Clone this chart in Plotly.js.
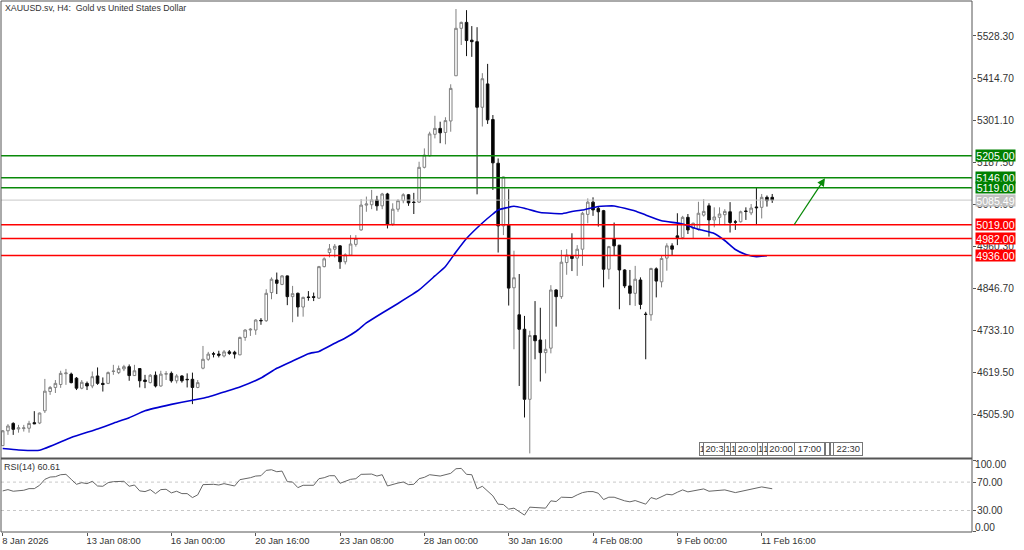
<!DOCTYPE html>
<html><head><meta charset="utf-8">
<script src="https://cdn.plot.ly/plotly-3.0.1.min.js"></script>
<style>html,body{margin:0;padding:0;background:#fff}#c{width:1024px;height:550px}</style>
</head><body><div id="c"></div>
<script>
const openP=[4423,4463,4483,4468,4469,4470,4485,4484,4517,4569,4580,4588,4617,4616,4605,4578,4591,4584,4611,4591,4591,4623,4620,4630,4636,4612,4631,4600,4593,4613,4584,4616,4618,4598,4611,4602,4602,4580,4632,4656,4671,4670,4665,4676,4675,4668,4715,4735,4735,4761,4760,4836,4870,4858,4881,4825,4834,4797,4824,4825,4821,4906,4944,4953,4962,4919,4937,4966,5005,5072,5073,5086,5070,5102,5021,5061,5084,5100,5080,5080,5174,5205,5263,5279,5268,5299,5421,5549,5565,5517,5513,5336,5399,5303,5185,5016,5018,4849,4776,4737,4548,4720,4708,4674,4686,4843,4825,4917,4936,4929,4953,5047,5080,5063,5057,4899,4981,4964,4897,4854,4834,4870,4778,4776,4900,4865,4929,4962,4989,4984,5039,5009,5007,5045,5070,5032,5039,5046,5054,5027,5027,5056,5051,5067,5066,5093,5093];
const highP=[4465,4481,4486,4479,4479,4490,4516,4512,4603,4584,4600,4625,4630,4620,4608,4600,4596,4623,4634,4607,4623,4641,4639,4641,4642,4641,4632,4614,4616,4623,4625,4624,4623,4616,4613,4618,4620,4600,4692,4676,4676,4679,4681,4681,4679,4717,4737,4740,4764,4767,4845,4877,4890,4883,4882,4854,4836,4825,4840,4836,4908,4931,4967,4967,4964,4942,4991,4991,5088,5095,5113,5097,5105,5105,5077,5088,5104,5102,5105,5189,5225,5270,5313,5297,5309,5398,5601,5567,5598,5555,5552,5428,5453,5315,5198,5149,5115,4949,4886,4773,4733,4813,4795,4710,4856,4845,4951,4953,4996,4964,5054,5090,5093,5068,5059,4962,5025,4964,4899,4897,4908,4877,4784,4903,4904,4937,4969,4969,5050,5043,5048,5025,5081,5088,5077,5066,5066,5061,5080,5032,5057,5066,5075,5120,5102,5098,5102];
const lowP=[4422,4452,4452,4458,4461,4458,4481,4481,4511,4560,4565,4579,4587,4591,4573,4575,4573,4578,4587,4569,4589,4614,4616,4624,4598,4611,4580,4578,4591,4580,4582,4600,4593,4591,4593,4580,4535,4578,4629,4652,4661,4661,4661,4668,4658,4667,4706,4719,4722,4749,4757,4818,4832,4856,4802,4756,4771,4771,4814,4813,4819,4904,4931,4931,4900,4912,4935,4960,5003,5054,5061,5057,5061,5009,5016,5054,5077,5070,5048,5078,5171,5203,5252,5239,5236,5270,5421,5504,5474,5472,5101,5284,5291,5113,4944,4991,4801,4683,4584,4499,4402,4656,4596,4618,4672,4744,4819,4884,4894,4881,4908,5023,5043,5014,4850,4872,4937,4791,4848,4802,4800,4791,4656,4760,4823,4850,4895,4937,4964,4980,4994,4982,5003,5041,4987,5012,5018,5018,4998,5005,5025,5032,5045,5021,5036,5068,5078];
const closeP=[4463,4476,4467,4471,4471,4483,4482,4511,4570,4580,4591,4618,4619,4593,4578,4594,4584,4609,4591,4588,4620,4624,4631,4636,4612,4625,4598,4596,4613,4584,4616,4617,4598,4611,4598,4601,4580,4593,4656,4670,4670,4667,4676,4672,4670,4715,4735,4737,4762,4760,4834,4872,4861,4881,4825,4833,4797,4823,4823,4823,4906,4927,4954,4961,4919,4938,4967,4982,5072,5075,5086,5070,5102,5021,5061,5084,5100,5078,5079,5174,5207,5264,5279,5267,5300,5387,5549,5565,5516,5513,5336,5413,5302,5186,5016,5148,4848,4876,4737,4548,4720,4706,4674,4683,4843,4825,4918,4937,4928,4953,5050,5080,5059,5054,4899,4960,4962,4897,4854,4834,4872,4804,4777,4901,4867,4928,4962,4953,4984,5039,5005,5023,5050,5055,5032,5040,5048,5055,5025,5026,5054,5055,5064,5065,5093,5084,5085.49];

const maBars=[0,3,7,13,18,21,24,27,32,36,39,42,45,49,52,55,58,60,63,65,67,69,72,75,79,82,84,86,88,91,93,94,97,99,102,106,108,110,113,116,120,122,125,129,132,135,137,139,141,143,145];
const maValues=[4415.3,4411.3,4410.5,4445,4468,4483.4,4498.2,4517.1,4534.3,4545.7,4554.3,4567.8,4581.3,4605.6,4631.7,4651.4,4671.1,4677.1,4699.2,4713.5,4731,4754,4780.9,4806.6,4843,4880.8,4906.4,4945.5,4981.9,5023.7,5048,5058.8,5068.8,5063.4,5052,5048.8,5054.8,5058.8,5068.3,5069.6,5056.1,5045.3,5030,5021,5006.7,4995.4,4976.5,4952.2,4938.8,4932.8,4935.5];

const rsiBars=[0,1,2,4,5,6,7,8,9,10,11,12,13,14,15,16,17,18,19,20,21,23,24,25,26,27,28,29,30,31,32,33,34,35,36,37,38,40,41,42,44,45,47,48,49,50,51,52,53,54,55,56,57,59,60,61,62,63,64,65,66,67,68,70,71,72,73,75,76,77,78,79,80,81,83,85,86,87,88,89,90,91,93,94,95,96,97,99,100,101,103,104,105,106,108,109,110,111,112,113,114,115,116,118,119,120,122,123,124,126,127,128,129,130,133,134,137,139,142,144,146];
const rsiValues=[57.6,59.4,57.1,58.5,60.8,60.8,65.5,73.9,77.1,77.6,80.4,80.9,73.9,66.9,69.2,67.8,71.1,64.5,64.1,69.2,70.6,71.1,64.1,65.9,57.6,56.6,59.4,53.8,59.4,59.9,54.8,57.1,53.8,53.8,48.2,52,66.4,66.9,65.9,67.8,64.5,73.4,76.2,78.5,79,86.5,87.4,84.6,85.5,70.6,70.1,62.2,65.5,65.5,74.8,76.2,79,79,68.3,71.5,73.9,74.8,80.9,81.3,78.5,80.4,64.5,68.7,70.1,66.4,66.9,74.8,76.7,80.4,78.5,82.3,88.8,89.3,80.9,80.4,60.4,64.1,50.6,38.9,38.4,31.9,33.3,23.5,34.7,34.2,33.3,43.6,42.6,48.7,48.2,52,55.2,56.6,56.6,54.3,45.4,48.7,48.7,43.6,42.2,44,38.9,48.2,45.9,52.9,52,55.7,59,56.2,60.4,57.1,59,55.2,59.9,63.2,60.61];

const priceTicks=[5528.30,5414.70,5301.10,5187.50,5073.90,4960.30,4846.70,4733.10,4619.50,4505.90];
const timeTickBars=[0,16,32,48,64,80,96,112,128,144];
const timeTickLabels=["8 Jan 2026","13 Jan 08:00","16 Jan 00:00","20 Jan 16:00","23 Jan 08:00","28 Jan 00:00","30 Jan 16:00","4 Feb 08:00","9 Feb 00:00","11 Feb 16:00"];
const rsiTicks=[0,30,70,100];
const rsiTickText=["","30.00","70.00",""];

const resistance=[5205,5146,5119];
const support=[5019,4982,4936];
const lastPrice=5085.49;
const arrowBars=[150,156];
const arrowPrices=[5015.6,5144.4];
const sessionLabels=["1","20:3","1","1","20:0","1","1","20:00","17:00","","","22:30"];

const F='"Liberation Sans", Arial, sans-serif', TXT='#333333', FRAME='#555555', FS=9.4, FY=10.2;
const bars=openP.map((_,i)=>i);
const px=v=>(v-1)/971;                    // horizontal pixel -> paper fraction for chrome labels
const PX_W=[4.5,21,5.7,5,21.7,5,5.6,26,29,3.4,3.4,28.4];
const PX_L=[699,703.3,724.3,730,735,756.7,761.7,767.3,794.3,825,830,833.3];

const traces=[
 {type:'candlestick',x:bars,open:openP,high:highP,low:lowP,close:closeP,xaxis:'x',yaxis:'y',whiskerwidth:0,
  increasing:{line:{color:'#808080',width:1},fillcolor:'#ffffff'},
  decreasing:{line:{color:'#111111',width:1},fillcolor:'#000000'},showlegend:false,hoverinfo:'skip'},
 {type:'scatter',mode:'lines',x:maBars,y:maValues,xaxis:'x',yaxis:'y',line:{color:'#0000d0',width:1.6,shape:'spline',smoothing:0.4},showlegend:false,hoverinfo:'skip'},
 {type:'scatter',mode:'lines',x:rsiBars,y:rsiValues,xaxis:'x',yaxis:'y2',line:{color:'#666666',width:1},showlegend:false,hoverinfo:'skip'}
];

const shapes=[];
const hline=(y,color,w)=>shapes.push({type:'line',xref:'paper',x0:0,x1:1,yref:'y',y0:y,y1:y,line:{color:color,width:w},layer:'above'});
resistance.forEach(v=>hline(v,'#0a8a0a',1.6));
hline(lastPrice,'#c8c8c8',1);
support.forEach(v=>hline(v,'#ff0000',1.6));
[70,30].forEach(v=>shapes.push({type:'line',xref:'paper',x0:0,x1:1,yref:'y2',y0:v,y1:v,line:{color:'#c8c8c8',width:1,dash:'dot'},layer:'below'}));
shapes.push({type:'rect',xref:'paper',yref:'paper',x0:0,x1:1,y0:0,y1:1,line:{color:FRAME,width:1},layer:'above'});
shapes.push({type:'line',xref:'paper',yref:'paper',x0:0,x1:1,y0:0.1385,y1:0.1385,line:{color:FRAME,width:2},layer:'above'});

const ann=[];
const note=(text,x,y,size)=>ann.push({text,xref:'paper',yref:'paper',x,y,xanchor:'left',yanchor:'middle',showarrow:false,font:{family:F,size,color:TXT}});
note('XAUUSD.sv, H4:  Gold vs United States Dollar',px(3),0.9875,8.8);
note('RSI(14) 60.61',px(2),0.1225,9);
const tag=(t,v,bg,col)=>ann.push({text:t,xref:'paper',yref:'y',x:1,y:v,xanchor:'left',yanchor:'middle',xshift:3,showarrow:false,width:39,height:11,borderpad:0,bgcolor:bg,font:{family:F,size:10.6,color:col}});
resistance.forEach(v=>tag(v.toFixed(2),v,'#008000','#ffffff'));
tag(lastPrice.toFixed(2),lastPrice,'#c0c0c0','#ffffff');
support.forEach(v=>tag(v.toFixed(2),v,'#ff0000','#ffffff'));
[[100,94.4],[0,6.7]].forEach(a=>ann.push({text:a[0].toFixed(2),xref:'paper',yref:'y2',x:1,y:a[1],xanchor:'left',yanchor:'middle',xshift:1,showarrow:false,font:{family:F,size:FY,color:TXT}}));
ann.push({x:arrowBars[1],y:arrowPrices[1],ax:arrowBars[0],ay:arrowPrices[0],xref:'x',yref:'y',axref:'x',ayref:'y',text:'',showarrow:true,arrowhead:2,arrowsize:1.2,arrowwidth:1.3,arrowcolor:'#0a8a0a'});
sessionLabels.forEach((t,k)=>ann.push({text:t,xref:'paper',yref:'paper',x:px(PX_L[k]),y:(532-449.3)/531,xanchor:'left',yanchor:'middle',showarrow:false,width:PX_W[k],height:11.5,borderpad:0,borderwidth:1,bordercolor:'#777777',bgcolor:'#ffffff',align:'center',font:{family:F,size:FS,color:TXT}}));

const layout={
 width:1024,height:550,paper_bgcolor:'#ffffff',plot_bgcolor:'#ffffff',hovermode:false,dragmode:false,showlegend:false,
 margin:{l:1,r:52,t:1,b:18,pad:0},
 xaxis:{domain:[0,1],anchor:'y2',range:[-0.32,183.9],rangeslider:{visible:false},tickmode:'array',tickvals:timeTickBars,ticktext:timeTickLabels,ticks:'outside',ticklen:3,tickcolor:FRAME,ticklabelposition:'outside right',ticklabelshift:-1,showgrid:false,zeroline:false,showline:false,tickfont:{family:F,size:FS,color:TXT},tickangle:0},
 yaxis:{domain:[0.1394,1],side:'right',anchor:'x',range:[4389.7,5622.7],tickmode:'array',tickvals:priceTicks,ticktext:priceTicks.map(v=>v.toFixed(2)),ticks:'outside',ticklen:3,tickcolor:FRAME,ticklabelstandoff:-1,showgrid:false,zeroline:false,showline:false,tickfont:{family:F,size:FY,color:TXT}},
 yaxis2:{domain:[0,0.1365],side:'right',anchor:'x',range:[-0.3,101.8],tickmode:'array',tickvals:rsiTicks,ticktext:rsiTickText,ticks:'outside',ticklen:3,tickcolor:FRAME,ticklabelstandoff:-1,showgrid:false,zeroline:false,showline:false,tickfont:{family:F,size:FY,color:TXT}},
 shapes,annotations:ann
};
Plotly.newPlot('c',traces,layout,{displayModeBar:false,staticPlot:true});
</script></body></html>
